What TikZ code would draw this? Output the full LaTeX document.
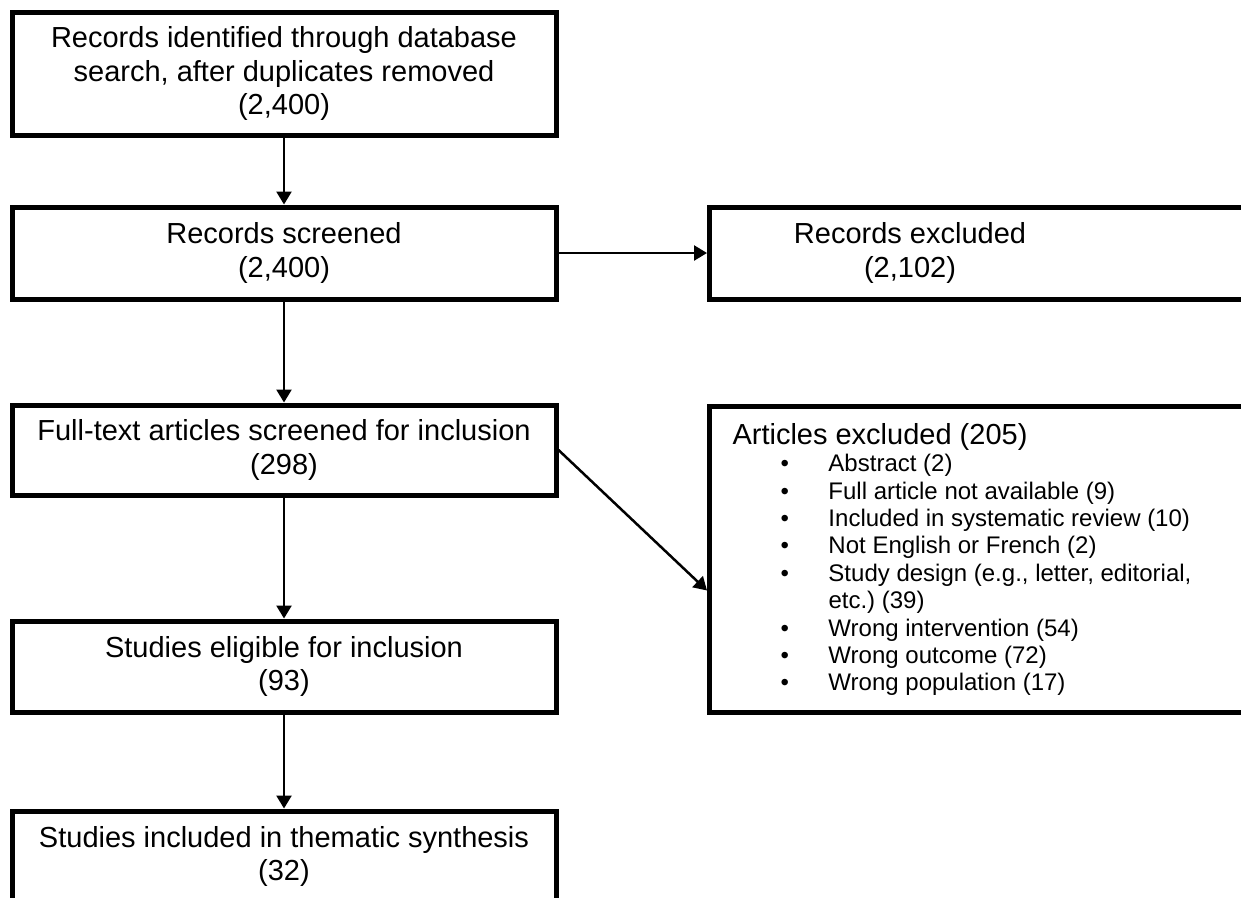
\documentclass[tikz,border=0pt]{standalone}
\usepackage{fontspec}
\setmainfont{Liberation Sans}
\usetikzlibrary{arrows.meta}
\begin{document}
\begin{tikzpicture}[x=1pt,y=-1pt, box/.style={draw, line width=5pt, align=center, minimum width=544pt, font=\fontsize{29}{33.5}\selectfont}, arr/.style={line width=2.5pt, -{Triangle[length=13pt,width=15pt]}}]
\useasboundingbox (0,0) rectangle (1241,897);
\node[box, minimum height=123pt] (ident) at (284,73.5) {Records identified through database\\search, after duplicates removed\\(2,400)};
\node[box, minimum height=92pt] (screen) at (284,253) {Records screened\\(2,400)};
\node[box, minimum height=92pt, minimum width=560pt, anchor=west] (recexcl) at (707,253) {};
\node[align=center, font=\fontsize{29}{33.5}\selectfont] (recexcltxt) at (910,253) {Records excluded\\(2,102)};
\node[box, minimum height=90pt] (fulltext) at (284,450) {Full-text articles screened for inclusion\\(298)};
\node[box, minimum height=306pt, minimum width=560pt, text width=514pt, inner xsep=23pt, align=flush left, anchor=north west, font=\fontsize{24}{27.4}\selectfont] (artexcl) at (707,404) {{\fontsize{29}{33.5}\selectfont Articles excluded (205)}\\
\hspace*{48pt}\makebox[48pt][l]{\textbullet}Abstract (2)\\
\hspace*{48pt}\makebox[48pt][l]{\textbullet}Full article not available (9)\\
\hspace*{48pt}\makebox[48pt][l]{\textbullet}Included in systematic review (10)\\
\hspace*{48pt}\makebox[48pt][l]{\textbullet}Not English or French (2)\\
\hspace*{48pt}\makebox[48pt][l]{\textbullet}Study design (e.g.,\ letter, editorial,\\
\hspace*{96pt}etc.)\ (39)\\
\hspace*{48pt}\makebox[48pt][l]{\textbullet}Wrong intervention (54)\\
\hspace*{48pt}\makebox[48pt][l]{\textbullet}Wrong outcome (72)\\
\hspace*{48pt}\makebox[48pt][l]{\textbullet}Wrong population (17)};
\node[box, minimum height=91pt] (eligible) at (284,666.5) {Studies eligible for inclusion\\(93)};
\node[box, minimum height=91pt] (included) at (284,856.5) {Studies included in thematic synthesis\\(32)};
\draw[arr] (ident) -- (screen);
\draw[arr] (screen) -- (recexcl);
\draw[arr] (screen) -- (fulltext);
\draw[arr] (fulltext.east) -- ([yshift=-31pt]artexcl.west);
\draw[arr] (fulltext) -- (eligible);
\draw[arr] (eligible) -- (included);
\end{tikzpicture}
\end{document}
